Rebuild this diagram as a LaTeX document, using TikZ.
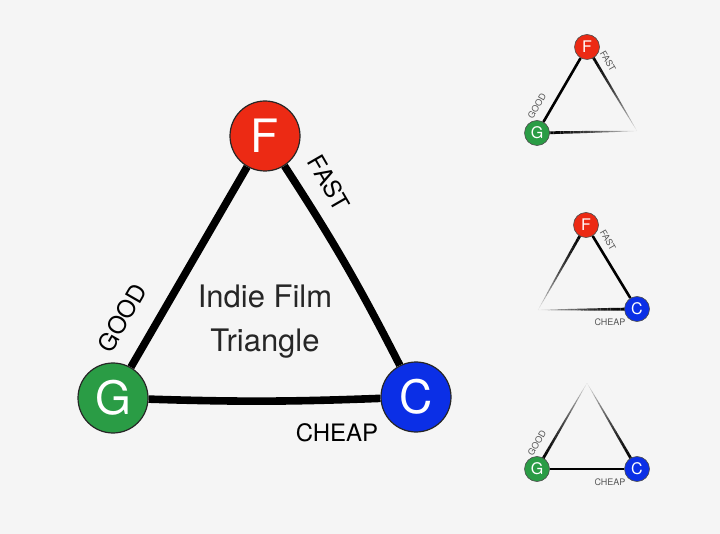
\documentclass[tikz,border=0pt]{standalone}
\usepackage{fontspec}
\setmainfont{TeX Gyre Heros}
\usetikzlibrary{calc,backgrounds}
\definecolor{bgc}{HTML}{F5F5F5}
\definecolor{fred}{HTML}{EC2A14}
\definecolor{ggreen}{HTML}{2A9C45}
\definecolor{cblue}{HTML}{0B2FE6}
\definecolor{lblgray}{HTML}{555555}
\tikzset{
  bigvert/.style={circle, draw=black!85, line width=1.2pt, minimum size=70pt, inner sep=0pt, text=white, font=\fontsize{46}{46}\selectfont},
  smallvert/.style={circle, draw=black!70, line width=0.6pt, minimum size=25pt, inner sep=0pt, text=white, font=\fontsize{16}{16}\selectfont},
  bigedge/.style={line width=7.6pt, black},
  smalledge/.style={line width=2.6pt, black},
  biglabel/.style={font=\fontsize{24}{24}\selectfont, text=black, inner sep=0pt},
  smalllabel/.style={font=\fontsize{9}{9}\selectfont, text=lblgray, inner sep=0pt},
  titletext/.style={font=\fontsize{31}{44}\selectfont, align=center, text=black!85, inner sep=0pt}
}
\newcommand{\fadeedge}[2]{%
  \foreach \i in {0,...,29}{%
    \pgfmathsetmacro\pa{\i/30}%
    \pgfmathsetmacro\pb{(\i+1)/30}%
    \pgfmathsetmacro\op{max(0,1-(\pa)^1.8)}%
    \pgfmathsetmacro\lw{2.7*(1-(\pa)^1.6)+0.2}%
    \draw[line width=\lw pt, draw opacity=\op, black] ($(#1)!\pa!(#2)$) -- ($(#1)!\pb!(#2)$);
  }%
}
\begin{document}
\begin{tikzpicture}[x=1pt,y=-1pt]
\begin{scope}[on background layer]
\fill[bgc] (0,0) rectangle (720,534);
\end{scope}
\useasboundingbox (0,0) rectangle (720,534);

% main triangle
\node[bigvert, fill=fred] (F) at (265,136) {F};
\node[bigvert, fill=ggreen] (G) at (113,398) {G};
\node[bigvert, fill=cblue] (C) at (416,397) {C};
\begin{scope}[on background layer]
\draw[bigedge] (F) to[bend left=3] (C);
\draw[bigedge] (G) to[bend right=2] (C);
\draw[bigedge] (G) to (F);
\end{scope}
\node[biglabel, rotate=-60] (lfast) at (329,183) {FAST};
\node[biglabel, rotate=60] (lgood) at (122,318) {GOOD};
\node[biglabel] (lcheap) at (337,433) {CHEAP};
\node[titletext] (title) at (265,322) {Indie Film\\Triangle};

% small triangle 1 (F, G)
\node[smallvert, fill=fred] (F1) at (587,47) {F};
\node[smallvert, fill=ggreen] (G1) at (537,133) {G};
\coordinate (C1) at (637,131);
\begin{scope}[on background layer]
\draw[smalledge] (G1) -- (F1);
\fadeedge{G1}{C1}
\fadeedge{F1}{C1}
\end{scope}
\node[smalllabel, rotate=60] (g1l) at (537,106) {GOOD};
\node[smalllabel, rotate=-60] (f1l) at (608,61) {FAST};

% small triangle 2 (F, C)
\node[smallvert, fill=fred] (F2) at (586,225) {F};
\node[smallvert, fill=cblue] (C2) at (637,309) {C};
\coordinate (G2) at (538,310);
\begin{scope}[on background layer]
\draw[smalledge] (F2) -- (C2);
\fadeedge{C2}{G2}
\fadeedge{F2}{G2}
\end{scope}
\node[smalllabel, rotate=-60] (f2l) at (608,240) {FAST};
\node[smalllabel] (c2l) at (610,322) {CHEAP};

% small triangle 3 (G, C)
\node[smallvert, fill=ggreen] (G3) at (537,469) {G};
\node[smallvert, fill=cblue] (C3) at (637,469) {C};
\coordinate (F3) at (587,383);
\begin{scope}[on background layer]
\draw[smalledge] (G3) -- (C3);
\fadeedge{G3}{F3}
\fadeedge{C3}{F3}
\end{scope}
\node[smalllabel, rotate=60] (g3l) at (537,443) {GOOD};
\node[smalllabel] (c3l) at (610,482) {CHEAP};
\end{tikzpicture}
\end{document}
